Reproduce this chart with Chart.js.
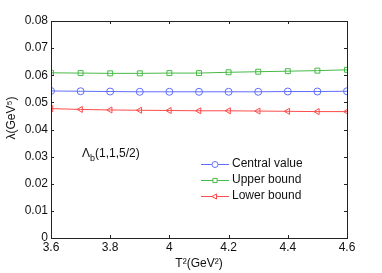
<!DOCTYPE html>
<html>
<head>
<meta charset="utf-8">
<script src="https://cdn.jsdelivr.net/npm/chart.js@4"></script>
<style>
  html, body { margin: 0; padding: 0; background: #fff; }
  #wrap { width: 382px; height: 273px; }
</style>
</head>
<body>
<div id="wrap"><canvas id="lambda-chart" width="382" height="273"></canvas></div>
<script>
const tSquared = [3.6, 3.7, 3.8, 3.9, 4.0, 4.1, 4.2, 4.3, 4.4, 4.5, 4.6];
const centralValue = [0.0542, 0.0541, 0.0540, 0.0539, 0.0539, 0.0539, 0.0539, 0.0539, 0.0540, 0.0540, 0.0541];
const upperBound = [0.0609, 0.0608, 0.0607, 0.0607, 0.0608, 0.0608, 0.0611, 0.0613, 0.0615, 0.0617, 0.0620];
const lowerBound = [0.0477, 0.0474, 0.0472, 0.0471, 0.0470, 0.0469, 0.0469, 0.0468, 0.0467, 0.0466, 0.0466];
const xTicks = [3.6, 3.8, 4.0, 4.2, 4.4, 4.6];
const yTicks = [0, 0.01, 0.02, 0.03, 0.04, 0.05, 0.06, 0.07, 0.08];

const FONT = "Liberation Sans, Arial, Helvetica, sans-serif";

const pts = (ys) => tSquared.map((x, i) => ({ x: x, y: ys[i] }));

const series = [
  { label: "Central value", values: centralValue, color: "rgb(95,110,255)", style: "circle", rot: 0 },
  { label: "Upper bound", values: upperBound, color: "rgb(70,185,70)", style: "rect", rot: 0 },
  { label: "Lower bound", values: lowerBound, color: "rgb(255,75,75)", style: "triangle", rot: -90 }
];

const datasets = series.map(s => ({
  label: s.label,
  data: pts(s.values),
  borderColor: s.color,
  backgroundColor: "rgba(0,0,0,0)",
  borderWidth: 1,
  pointStyle: s.style,
  pointRotation: s.rot,
  pointRadius: 3.5,
  pointBorderWidth: 1,
  pointBorderColor: s.color,
  pointBackgroundColor: "rgba(0,0,0,0)"
}));

// frame, inward ticks, titles, annotation and legend (matlab look)
const decor = {
  id: "decor",
  afterDraw(chart) {
    const ctx = chart.ctx;
    const a = chart.chartArea;
    const xs = chart.scales.x, ys = chart.scales.y;
    ctx.save();
    ctx.strokeStyle = "#222";
    ctx.lineWidth = 1;
    ctx.strokeRect(Math.round(a.left) + 0.5, Math.round(a.top) + 0.5, Math.round(a.right - a.left), Math.round(a.bottom - a.top));
    ctx.beginPath();
    xTicks.forEach(v => {
      const px = Math.round(xs.getPixelForValue(v)) + 0.5;
      ctx.moveTo(px, a.bottom); ctx.lineTo(px, a.bottom - 3);
      ctx.moveTo(px, a.top); ctx.lineTo(px, a.top + 3);
    });
    yTicks.forEach(v => {
      const py = Math.round(ys.getPixelForValue(v)) + 0.5;
      ctx.moveTo(a.left, py); ctx.lineTo(a.left + 3, py);
      ctx.moveTo(a.right, py); ctx.lineTo(a.right - 3, py);
    });
    ctx.stroke();

    ctx.fillStyle = "#111";
    // x title
    ctx.font = "12px " + FONT;
    ctx.textBaseline = "middle";
    ctx.textAlign = "center";
    ctx.fillText("T\u00B2(GeV\u00B2)", (a.left + a.right) / 2, 264);
    // y title
    ctx.save();
    ctx.translate(12, 118);
    ctx.rotate(-Math.PI / 2);
    ctx.fillText("\u03BB(GeV\u2075)", 0, 0);
    ctx.restore();

    // annotation Lambda_b(1,1,5/2)
    ctx.textAlign = "left";
    ctx.font = "12px " + FONT;
    ctx.fillText("\u039B", 82, 154);
    const w1 = ctx.measureText("\u039B").width;
    ctx.font = "9px " + FONT;
    ctx.fillText("b", 82 + w1, 159);
    const w2 = ctx.measureText("b").width;
    ctx.font = "12px " + FONT;
    ctx.fillText("(1,1,5/2)", 82 + w1 + w2, 154);

    // legend
    const rows = [164, 180, 196];
    series.forEach((s, i) => {
      const y = rows[i];
      ctx.strokeStyle = s.color;
      ctx.lineWidth = 1;
      ctx.beginPath();
      ctx.moveTo(201, y + 0.5); ctx.lineTo(229, y + 0.5);
      ctx.stroke();
      ctx.fillStyle = "#fff";
      Chart.helpers.drawPoint(ctx, { pointStyle: s.style, rotation: s.rot, radius: 3, borderWidth: 1 }, 215, y + 0.5);
      ctx.fillStyle = "#111";
      ctx.font = "12px " + FONT;
      ctx.fillText(s.label, 232, y);
    });
    ctx.restore();
  }
};

const config = {
  type: "line",
  data: { datasets: datasets },
  options: {
    responsive: false,
    animation: false,
    layout: { padding: { left: 0, top: 21, right: 35, bottom: 0 } },
    plugins: { legend: { display: false }, tooltip: { enabled: false } },
    scales: {
      x: {
        type: "linear",
        min: 3.6,
        max: 4.6,
        afterFit: (s) => { s.height = 35; },
        afterBuildTicks: (s) => { s.ticks = xTicks.map(v => ({ value: v })); },
        grid: { display: false, drawTicks: false },
        border: { display: false },
        ticks: {
          padding: 2,
          color: "#111",
          font: { family: FONT, size: 12 },
          maxRotation: 0,
          callback: (v) => String(Math.round(v * 10) / 10)
        }
      },
      y: {
        min: 0,
        max: 0.08,
        afterFit: (s) => { s.width = 51; },
        afterBuildTicks: (s) => { s.ticks = yTicks.map(v => ({ value: v })); },
        grid: { display: false, drawTicks: false },
        border: { display: false },
        ticks: {
          padding: 3,
          color: "#111",
          font: { family: FONT, size: 12 },
          callback: (v) => String(Math.round(v * 100) / 100)
        }
      }
    }
  },
  plugins: [decor]
};

const dv = document.getElementById("lambda-chart");
const lambdaChart = new Chart(dv, config);
</script>
</body>
</html>
